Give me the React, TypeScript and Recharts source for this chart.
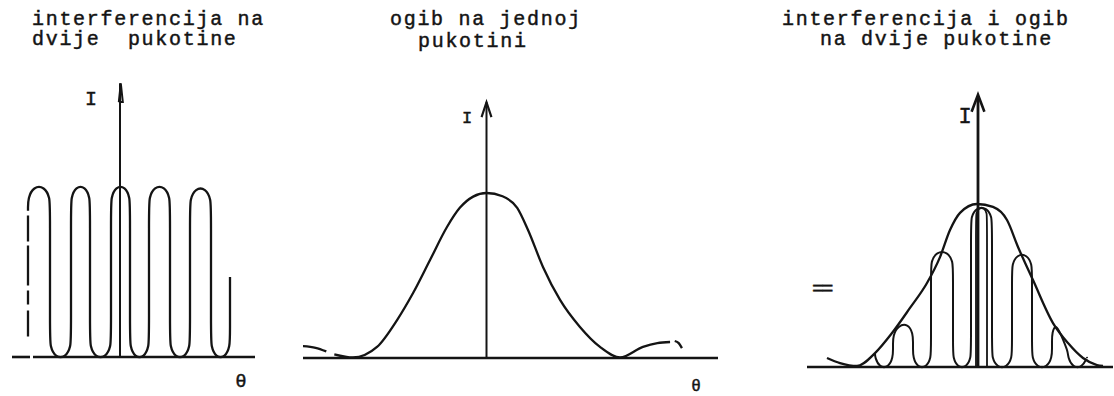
import { LineChart, Line, XAxis, YAxis, ReferenceLine } from "recharts";
import type { ReactNode } from "react";

type Pt = { x: number; y: number };

// --- interferencija na dvije pukotine (θ in fringe periods, I relative) ---
const twoSlitEdges: [number, number][] = [
  [-2.3, -1.75],
  [-1.225, -0.75],
  [-0.225, 0.25],
  [0.725, 1.25],
  [1.75, 2.275],
];
const twoSlitTops = [1, 1, 1, 1, 0.99];
const twoSlitBrokenEdge: Pt[] = [
  { x: -2.3, y: 0.12 },
  { x: -2.3, y: 0.86 },
];
const twoSlitLastEdge: Pt = { x: 2.75, y: 0.47 };

// --- ogib na jednoj pukotini (θ in units of first minimum) ---
const singleSlitLeftTail: Pt[] = [
  { x: -1.382, y: 0.073 },
  { x: -1.28, y: 0.062 },
  { x: -1.2, y: 0.04 },
];
const singleSlitCurve: Pt[] = [
  { x: -1.14, y: 0.022 },
  { x: -1.0, y: 0.003 },
  { x: -0.82, y: 0.067 },
  { x: -0.67, y: 0.23 },
  { x: -0.55, y: 0.394 },
  { x: -0.423, y: 0.594 },
  { x: -0.296, y: 0.794 },
  { x: -0.2, y: 0.91 },
  { x: -0.1, y: 0.978 },
  { x: 0, y: 1 },
  { x: 0.12, y: 0.98 },
  { x: 0.23, y: 0.91 },
  { x: 0.311, y: 0.776 },
  { x: 0.423, y: 0.552 },
  { x: 0.551, y: 0.352 },
  { x: 0.7, y: 0.188 },
  { x: 0.85, y: 0.067 },
  { x: 1.0, y: 0.003 },
  { x: 1.172, y: 0.067 },
  { x: 1.28, y: 0.09 },
  { x: 1.375, y: 0.097 },
];
const singleSlitRightTail: Pt[] = [
  { x: 1.41, y: 0.103 },
  { x: 1.44, y: 0.09 },
  { x: 1.464, y: 0.06 },
];

// --- interferencija i ogib na dvije pukotine ---
const envelope: Pt[] = [
  { x: -3.775, y: 0.055 },
  { x: -3.45, y: 0.024 },
  { x: -3.025, y: 0.006 },
  { x: -2.575, y: 0.085 },
  { x: -2.15, y: 0.207 },
  { x: -1.7, y: 0.36 },
  { x: -1.275, y: 0.512 },
  { x: -0.95, y: 0.67 },
  { x: -0.7, y: 0.835 },
  { x: -0.45, y: 0.94 },
  { x: -0.025, y: 0.994 },
  { x: 0.375, y: 0.976 },
  { x: 0.725, y: 0.896 },
  { x: 1.0, y: 0.732 },
  { x: 1.375, y: 0.53 },
  { x: 1.875, y: 0.268 },
  { x: 2.25, y: 0.146 },
  { x: 2.625, y: 0.055 },
  { x: 2.975, y: 0.012 },
  { x: 3.125, y: 0.006 },
];
const comboEdges: [number, number][] = [
  [-2.125, -1.625],
  [-1.175, -0.625],
  [-0.175, 0.35],
  [0.85, 1.35],
  [1.85, 2.25],
];
const comboTopsLeft = [0.25, 0.7, 0.97, 0.683, 0.268];
const comboTopsRight = [0.262, 0.7, 0.97, 0.683, 0.15];
const comboFirstEdge: Pt = { x: -2.575, y: 0.085 };
const comboLastEdge: Pt = { x: 2.725, y: 0.055 };
const comboInner: [number, number] = [-0.05, 0.225];
const comboInnerTop = 0.97;

// Control polygon for a basis curve: straight uprights joined by trapezoid
// caps and troughs, which the spline rounds into near-semicircular arches.
// h is the arch height in intensity units.
function fringeOutline(
  edges: [number, number][],
  topsL: number[],
  topsR: number[],
  start: Pt,
  end: Pt,
  startOnEdge: boolean,
  h: number
): Pt[] {
  const d = h / 23;
  const pts: Pt[] = [start];
  if (!startOnEdge) pts.push({ x: start.x, y: h });
  const trough = (x1: number, x2: number) => {
    const q = (x2 - x1) / 4;
    pts.push({ x: x1 + q, y: -d }, { x: x2 - q, y: -d });
  };
  let prevX = start.x;
  edges.forEach(([a, b], i) => {
    const tl = topsL[i];
    const tr = topsR[i];
    const tallL = tl - 2 * h > 2 * h;
    const tallR = tr - 2 * h > 2 * h;
    const q = (b - a) / 4;
    if (!(i === 0 && startOnEdge)) {
      trough(prevX, a);
      pts.push({ x: a, y: h });
      if (tallL) pts.push({ x: a, y: 2 * h });
    }
    if (tallL) pts.push({ x: a, y: tl - 2 * h });
    pts.push(
      { x: a, y: tl - h },
      { x: a + q, y: tl + d },
      { x: b - q, y: tr + d },
      { x: b, y: tr - h }
    );
    if (tallR) pts.push({ x: b, y: tr - 2 * h }, { x: b, y: 2 * h });
    pts.push({ x: b, y: h });
    prevX = b;
  });
  trough(prevX, end.x);
  pts.push({ x: end.x, y: h });
  if (end.y > 3 * h) pts.push({ x: end.x, y: 2 * h });
  pts.push(end);
  return pts;
}

const twoSlitLine = fringeOutline(
  twoSlitEdges,
  twoSlitTops,
  twoSlitTops,
  twoSlitBrokenEdge[1],
  twoSlitLastEdge,
  true,
  0.065
);

const comboLine = fringeOutline(
  comboEdges,
  comboTopsLeft,
  comboTopsRight,
  comboFirstEdge,
  comboLastEdge,
  false,
  0.058
);

const innerH = 0.034;
const innerQ = (comboInner[1] - comboInner[0]) / 4;
const comboInnerLine: Pt[] = [
  { x: comboInner[0], y: 0 },
  { x: comboInner[0], y: comboInnerTop - 2 * innerH },
  { x: comboInner[0], y: comboInnerTop - innerH },
  { x: comboInner[0] + innerQ, y: comboInnerTop },
  { x: comboInner[1] - innerQ, y: comboInnerTop },
  { x: comboInner[1], y: comboInnerTop - innerH },
  { x: comboInner[1], y: comboInnerTop - 2 * innerH },
  { x: comboInner[1], y: 0 },
];

const INK = "#141414";

type Geo = {
  left: number;
  right: number;
  top: number;
  bottom: number;
  x0: number;
  y0: number;
  ux: number;
  uy: number;
};

const geo1: Geo = { left: 8, right: 256, top: 68, bottom: 392, x0: 120, y0: 357, ux: 40, uy: 170 };
const geo2: Geo = { left: 303, right: 718, top: 90, bottom: 392, x0: 486.5, y0: 358, ux: 133.5, uy: 165 };
const geo3: Geo = { left: 807, right: 1113, top: 80, bottom: 392, x0: 978, y0: 367, ux: 40, uy: 164 };

function Panel({ g, children }: { g: Geo; children: ReactNode }) {
  const xd = [(g.left - g.x0) / g.ux, (g.right - g.x0) / g.ux];
  const yd = [(g.y0 - g.bottom) / g.uy, (g.y0 - g.top) / g.uy];
  return (
    <div style={{ position: "absolute", left: g.left, top: g.top }}>
      <LineChart
        width={g.right - g.left}
        height={g.bottom - g.top}
        margin={{ top: 0, right: 0, bottom: 0, left: 0 }}
      >
        <XAxis type="number" dataKey="x" domain={xd} hide allowDataOverflow />
        <YAxis type="number" dataKey="y" domain={yd} hide allowDataOverflow />
        {children}
      </LineChart>
    </div>
  );
}

function curve(data: Pt[], type: "basis" | "monotone" | "linear", width = 2.3, dash?: string) {
  return (
    <Line
      data={data}
      dataKey="y"
      type={type}
      stroke={INK}
      strokeWidth={width}
      strokeDasharray={dash}
      dot={false}
      activeDot={false}
      isAnimationActive={false}
    />
  );
}

// typewriter-ish lettering: mono face, slightly inked
const titleStyle = {
  fontFamily: "'Liberation Mono', monospace",
  fontSize: 20,
  letterSpacing: 1.7,
  whiteSpace: "pre" as const,
  stroke: INK,
  strokeWidth: 0.45,
};
const glyph = (size: number) => ({ ...titleStyle, fontSize: size, letterSpacing: 0 });

export default function App() {
  return (
    <div
      style={{
        position: "absolute",
        left: 0,
        top: 0,
        width: 1114,
        height: 396,
        background: "#fff",
        overflow: "hidden",
      }}
    >
      <Panel g={geo1}>
        <ReferenceLine segment={[{ x: -2.7, y: 0 }, { x: -2.25, y: 0 }]} stroke={INK} strokeWidth={2.6} />
        <ReferenceLine segment={[{ x: -2.175, y: 0 }, { x: 3.375, y: 0 }]} stroke={INK} strokeWidth={2.6} />
        <ReferenceLine segment={[{ x: 0, y: 0 }, { x: 0, y: 1.61 }]} stroke={INK} strokeWidth={2} />
        {curve(
          [
            { x: -0.03, y: 1.5 },
            { x: 0.02, y: 1.61 },
            { x: 0.07, y: 1.5 },
            { x: -0.03, y: 1.5 },
          ],
          "linear",
          2
        )}
        {curve(twoSlitBrokenEdge, "linear", 2.3, "26 6 14 5 40 4")}
        {curve(twoSlitLine, "basis")}
      </Panel>

      <Panel g={geo2}>
        <ReferenceLine y={0} stroke={INK} strokeWidth={2.6} />
        <ReferenceLine segment={[{ x: 0, y: 0 }, { x: 0, y: 1.55 }]} stroke={INK} strokeWidth={2} />
        {curve(
          [
            { x: -0.037, y: 1.46 },
            { x: 0, y: 1.55 },
            { x: 0.037, y: 1.46 },
          ],
          "linear",
          2.2
        )}
        {curve(singleSlitLeftTail, "monotone")}
        {curve(singleSlitCurve, "monotone")}
        {curve(singleSlitRightTail, "monotone")}
      </Panel>

      <Panel g={geo3}>
        <ReferenceLine y={0} stroke={INK} strokeWidth={2.6} />
        <ReferenceLine segment={[{ x: 0, y: 0 }, { x: 0, y: 1.64 }]} stroke={INK} strokeWidth={2.8} />
        {curve(
          [
            { x: -0.16, y: 1.556 },
            { x: 0, y: 1.66 },
            { x: 0.16, y: 1.556 },
          ],
          "linear",
          2.6
        )}
        {curve(envelope, "monotone")}
        {curve(comboLine, "basis", 2)}
        {curve(comboInnerLine, "basis", 1.8)}
      </Panel>

      <svg
        width={1114}
        height={396}
        style={{ position: "absolute", left: 0, top: 0, pointerEvents: "none" }}
      >
        <g fill={INK}>
          <text x={32} y={25} style={titleStyle}>interferencija na</text>
          <text x={32} y={45} style={titleStyle}>dvije  pukotine</text>
          <text x={390} y={25} style={titleStyle}>ogib na jednoj</text>
          <text x={418} y={47} style={titleStyle}>pukotini</text>
          <text x={782} y={25} style={titleStyle}>interferencija i ogib</text>
          <text x={820} y={45} style={titleStyle}>na dvije pukotine</text>

          <text x={91} y={105} textAnchor="middle" style={glyph(20)}>I</text>
          <text x={467} y={123} textAnchor="middle" style={glyph(17)}>I</text>
          <text x={965} y={123} textAnchor="middle" style={glyph(22)}>I</text>

          <text x={241} y={387} textAnchor="middle" style={glyph(19)}>θ</text>
          <text x={696} y={391} textAnchor="middle" style={glyph(16)}>θ</text>

          <text x={812} y={295} style={{ ...glyph(20), letterSpacing: -2.5 }}>==</text>
        </g>
      </svg>
    </div>
  );
}
